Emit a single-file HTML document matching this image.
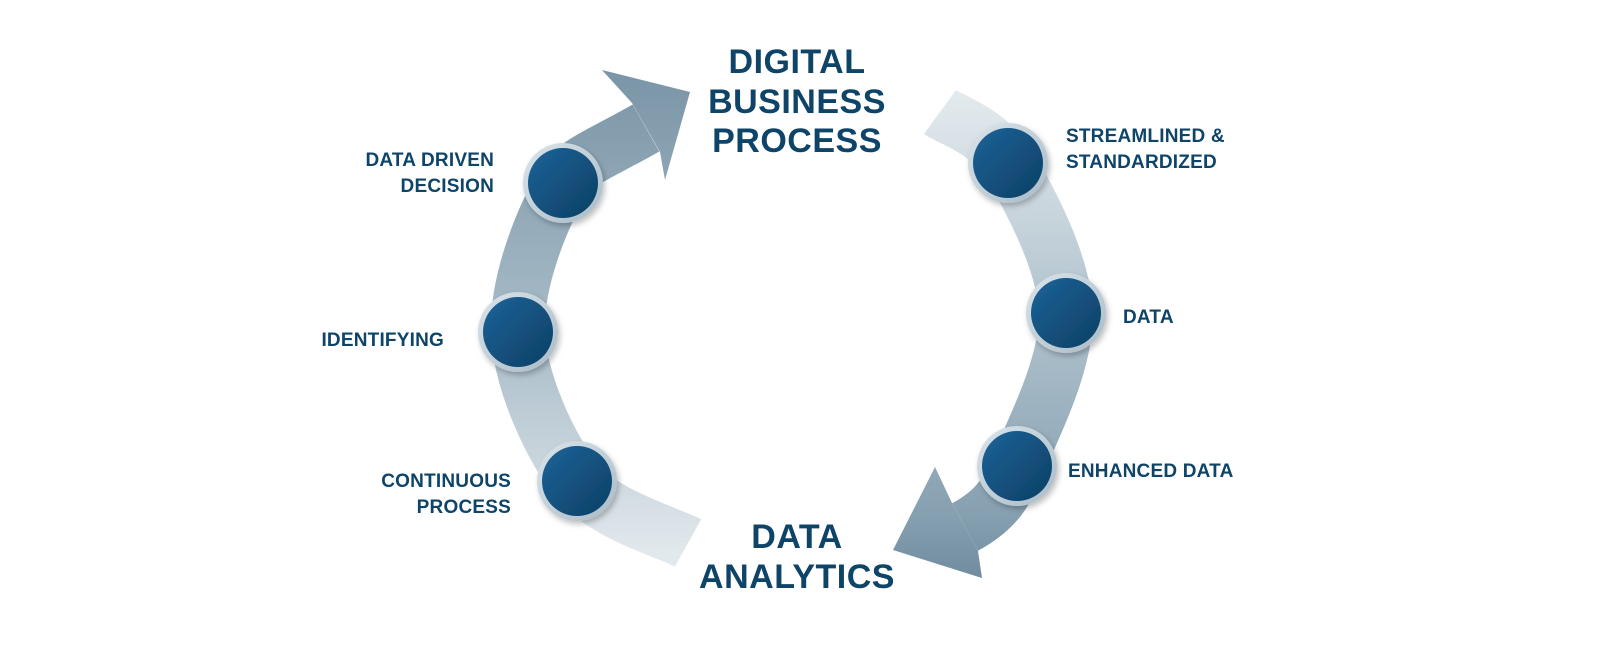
<!DOCTYPE html>
<html><head><meta charset="utf-8"><style>
html,body{margin:0;padding:0;background:#fff;}
svg{display:block}
text{font-family:"Liberation Sans",sans-serif;font-weight:bold;fill:#0e4468;}
.t{font-size:34px;letter-spacing:0.5px}
.l{font-size:19px;letter-spacing:0.2px}
</style></head><body>
<svg width="1600" height="650" viewBox="0 0 1600 650" xmlns="http://www.w3.org/2000/svg">
<defs>
<linearGradient id="gl" gradientUnits="userSpaceOnUse" x1="0" y1="555" x2="0" y2="70">
<stop offset="0" stop-color="#e2e9ed"/><stop offset="0.45" stop-color="#a9bcc8"/><stop offset="1" stop-color="#7a95a7"/>
</linearGradient>
<linearGradient id="gr" gradientUnits="userSpaceOnUse" x1="0" y1="95" x2="0" y2="590">
<stop offset="0" stop-color="#e3eaee"/><stop offset="0.45" stop-color="#b0c2cd"/><stop offset="0.85" stop-color="#86a0b1"/><stop offset="1" stop-color="#6c889b"/>
</linearGradient>
<linearGradient id="nb" x1="0" y1="0" x2="1" y2="1">
<stop offset="0" stop-color="#1d6399"/><stop offset="1" stop-color="#0c3f63"/>
</linearGradient>
<linearGradient id="rg" x1="0" y1="0" x2="1" y2="1">
<stop offset="0" stop-color="#dbe4ea"/><stop offset="1" stop-color="#a9bbc7"/>
</linearGradient>
<filter id="sh" x="-30%" y="-30%" width="160%" height="160%"><feDropShadow dx="2" dy="3" stdDeviation="3" flood-color="#000" flood-opacity="0.25"/></filter>
</defs>
<path d="M688,543 C670,533 604,515 577,481 C550,447 520,382 518,332 C516,282 542,217 563,183 C578,160 595,157 646,128" fill="none" stroke="url(#gl)" stroke-width="54"/>
<polygon points="632,103 602,70 690,92 665,180 660,152" fill="url(#gl)"/>
<path d="M940,112 C951,120 987,130 1008,163 C1029,197 1064,262 1066,313 C1067,363 1033,430 1017,466 C1008,488 1000,508 965,527" fill="none" stroke="url(#gr)" stroke-width="54"/>
<polygon points="952,503 935,467 893,550 982,578 978,551" fill="url(#gr)"/>
<g filter="url(#sh)">
<circle cx="563" cy="183" r="40" fill="url(#rg)"/><circle cx="563" cy="183" r="35" fill="url(#nb)"/>
<circle cx="518" cy="332" r="40" fill="url(#rg)"/><circle cx="518" cy="332" r="35" fill="url(#nb)"/>
<circle cx="577" cy="481" r="40" fill="url(#rg)"/><circle cx="577" cy="481" r="35" fill="url(#nb)"/>
<circle cx="1008" cy="163" r="40" fill="url(#rg)"/><circle cx="1008" cy="163" r="35" fill="url(#nb)"/>
<circle cx="1066" cy="313" r="40" fill="url(#rg)"/><circle cx="1066" cy="313" r="35" fill="url(#nb)"/>
<circle cx="1017" cy="466" r="40" fill="url(#rg)"/><circle cx="1017" cy="466" r="35" fill="url(#nb)"/>
</g>
<text class="t" x="797" y="73" text-anchor="middle">DIGITAL</text>
<text class="t" x="797" y="113" text-anchor="middle">BUSINESS</text>
<text class="t" x="797" y="152" text-anchor="middle">PROCESS</text>
<text class="t" x="797" y="548" text-anchor="middle">DATA</text>
<text class="t" x="797" y="588" text-anchor="middle">ANALYTICS</text>
<text class="l" x="494" y="166" text-anchor="end">DATA DRIVEN</text>
<text class="l" x="494" y="192" text-anchor="end">DECISION</text>
<text class="l" x="444" y="346" text-anchor="end">IDENTIFYING</text>
<text class="l" x="511" y="487" text-anchor="end">CONTINUOUS</text>
<text class="l" x="511" y="513" text-anchor="end">PROCESS</text>
<text class="l" x="1066" y="142">STREAMLINED &amp;</text>
<text class="l" x="1066" y="168">STANDARDIZED</text>
<text class="l" x="1123" y="323">DATA</text>
<text class="l" x="1068" y="477">ENHANCED DATA</text>
</svg>
</body></html>
